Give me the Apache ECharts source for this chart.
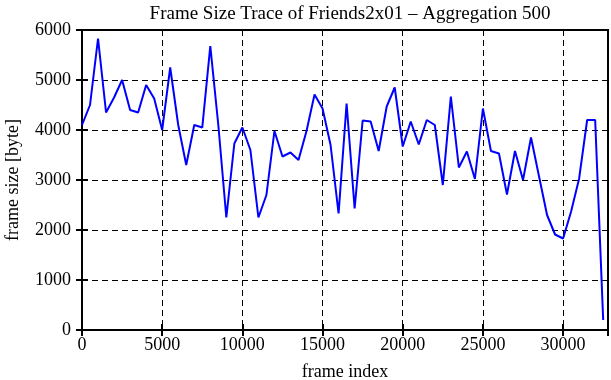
<!DOCTYPE html>
<html>
<head>
<meta charset="utf-8">
<script src="https://cdn.jsdelivr.net/npm/echarts@6/dist/echarts.min.js"></script>
<style>
  html, body { margin: 0; padding: 0; background: #fff; }
  #chart { width: 611px; height: 380px; }
</style>
</head>
<body>
<div id="chart"></div>
<script>
// frame index of each aggregated point (aggregation 500)
const frameIndex = [
  0, 500, 1000, 1500, 2000, 2500, 3000, 3500, 4000, 4500,
  5000, 5500, 6000, 6500, 7000, 7500, 8000, 8500, 9000, 9500,
  10000, 10500, 11000, 11500, 12000, 12500, 13000, 13500, 14000, 14500,
  15000, 15500, 16000, 16500, 17000, 17500, 18000, 18500, 19000, 19500,
  20000, 20500, 21000, 21500, 22000, 22500, 23000, 23500, 24000, 24500,
  25000, 25500, 26000, 26500, 27000, 27500, 28000, 28500, 29000, 29500,
  30000, 30500, 31000, 31500, 32000, 32500
]
// frame size [byte]
const frameSize = [
  4100, 4500, 5830, 4350, 4650, 5000, 4400, 4350, 4900, 4630,
  4000, 5250, 4100, 3300, 4100, 4050, 5680, 4100, 2250, 3730,
  4050, 3600, 2250, 2700, 3980, 3470, 3550, 3400, 3980, 4710,
  4430, 3700, 2330, 4530, 2430, 4190, 4170, 3580, 4470, 4850,
  3670, 4170, 3710, 4200, 4100, 2900, 4670, 3250, 3570, 3020,
  4430, 3580, 3530, 2710, 3580, 3000, 3850, 3070, 2300, 1910,
  1830, 2370, 3030, 4200, 4200, 200
]
const xTicks = { min: 0, max: 32800, interval: 5000 }
const yTicks = { min: 0, max: 6000, interval: 1000 }

const chart = echarts.init(document.getElementById('chart'))
const font = 'Liberation Serif'

const dashed = { show: true, lineStyle: { color: '#000', width: 1, type: [6, 4] } }
const tick = { show: true, inside: true, length: 6, lineStyle: { color: '#000', width: 2 } }
const plain = v => String(v)

const option = {
  backgroundColor: '#fff',
  animation: false,
  title: {
    text: 'Frame Size Trace of Friends2x01 – Aggregation 500',
    left: 345,
    textAlign: 'center',
    top: 0,
    textStyle: { fontFamily: font, fontSize: 19, fontWeight: 'normal', color: '#000' }
  },
  grid: {
    left: 82, right: 3, top: 30, bottom: 50,
    containLabel: false,
    outerBoundsMode: 'none',
    show: true, borderColor: '#000', borderWidth: 2, backgroundColor: 'transparent'
  },
  xAxis: [
    {
      type: 'value',
      ...xTicks,
      name: 'frame index',
      nameLocation: 'middle',
      nameGap: 33,
      nameTextStyle: { fontFamily: font, fontSize: 18, color: '#000' },
      axisLine: { show: false },
      axisTick: tick,
      splitLine: dashed,
      axisLabel: { fontFamily: font, fontSize: 18, color: '#000', margin: 6, showMaxLabel: false, formatter: plain }
    },
    {
      type: 'value',
      position: 'top',
      ...xTicks,
      axisLine: { show: false },
      axisTick: tick,
      splitLine: { show: false },
      axisLabel: { show: false }
    }
  ],
  yAxis: [
    {
      type: 'value',
      ...yTicks,
      name: 'frame size [byte]',
      nameLocation: 'middle',
      nameRotate: 90,
      nameGap: 60,
      nameTextStyle: { fontFamily: font, fontSize: 18, color: '#000' },
      axisLine: { show: false },
      axisTick: tick,
      splitLine: dashed,
      axisLabel: { fontFamily: font, fontSize: 18, color: '#000', margin: 11, formatter: plain }
    },
    {
      type: 'value',
      position: 'right',
      ...yTicks,
      axisLine: { show: false },
      axisTick: tick,
      splitLine: { show: false },
      axisLabel: { show: false }
    }
  ],
  series: [
    {
      type: 'line',
      xAxisIndex: 0,
      yAxisIndex: 0,
      data: frameIndex.map((f, i) => [f, frameSize[i]]),
      showSymbol: false,
      lineStyle: { color: '#0000ff', width: 2 },
      z: 5
    }
  ]
}

chart.setOption(option)
</script>
</body>
</html>
